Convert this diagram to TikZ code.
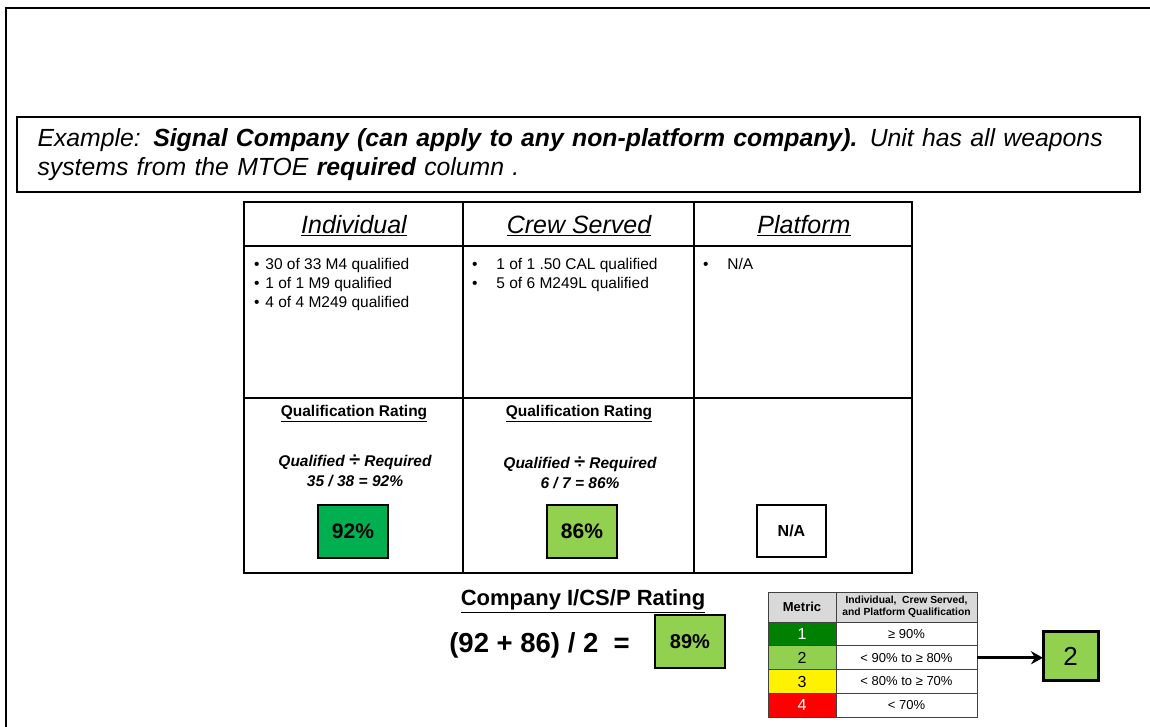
\documentclass[tikz,border=0pt]{standalone}
\usepackage{fontspec}
\setmainfont{Liberation Sans}
\usetikzlibrary{arrows.meta}
\definecolor{dkgreen}{HTML}{00B050}
\definecolor{ltgreen}{HTML}{92D050}
\definecolor{mgreen}{HTML}{008000}
\definecolor{hdrgray}{HTML}{D9D9D9}
\begin{document}
\begin{tikzpicture}[x=1pt,y=-1pt,
  every node/.style={inner sep=0pt, outer sep=0pt},
  gridline/.style={line width=1.5pt},
  hdr/.style={font=\fontsize{25}{30}\selectfont\itshape},
  blist/.style={font=\fontsize{15.5}{19}\selectfont, align=left, anchor=north west},
  qrate/.style={font=\fontsize{15.5}{19}\selectfont\bfseries},
  qform/.style={font=\fontsize{15.5}{20}\selectfont\bfseries\itshape, align=center},
  pctbox/.style={draw, line width=1.5pt, minimum width=70, minimum height=53, font=\fontsize{21}{24}\selectfont\bfseries},
  mcell/.style={draw=black!75, line width=1pt, minimum height=23.75},
  mnum/.style={mcell, minimum width=68, font=\fontsize{16}{18}\selectfont},
  mtxt/.style={mcell, fill=white, minimum width=141, font=\fontsize{13}{15}\selectfont},
]
\useasboundingbox (0,0) rectangle (1150,726);
\clip (0,0) rectangle (1150,726);
\draw[line width=2.5pt] (6,8) rectangle (1175,760);

% example box
\node[draw, line width=2.8pt, minimum width=1123, minimum height=75, inner xsep=19, text width=1082, align=left,
  font=\fontsize{24.8}{29.5}\selectfont\itshape] (ex) at (578.5,154.5)
  {Example: \textbf{Signal Company (can apply to any non-platform company).} Unit has all weapons\\
   systems from the MTOE \textbf{required} column .};

% main table grid
\draw[gridline] (244,202) rectangle (912,573);
\draw[gridline] (244,246) -- (912,246);
\draw[gridline] (244,398) -- (912,398);
\draw[gridline] (463,202) -- (463,573);
\draw[gridline] (694,202) -- (694,573);

\node[hdr] (h1) at (354,226) {\underline{Individual}};
\node[hdr] (h2) at (579,226) {\underline{Crew Served}};
\node[hdr] (h3) at (804,226) {\underline{Platform}};

\node[blist] (l1) at (254,258.5) {•\hspace{6pt}30 of 33 M4 qualified\\ •\hspace{6pt}1 of 1 M9 qualified\\ •\hspace{6pt}4 of 4 M249 qualified};
\node[blist] (l2) at (472,258.5) {•\hspace{19pt}1 of 1 .50 CAL qualified\\ •\hspace{19pt}5 of 6 M249L qualified};
\node[blist] (l3) at (703,258.5) {•\hspace{19pt}N/A};

\node[qrate] (q1) at (354,414) {\underline{Qualification Rating}};
\node[qrate] (q2) at (579,414) {\underline{Qualification Rating}};

\node[qform] (f1) at (355,471) {Qualified {\fontsize{20}{20}\selectfont ÷} Required\\35 / 38 = 92\%};
\node[qform] (f2) at (580,473) {Qualified {\fontsize{20}{20}\selectfont ÷} Required\\6 / 7 = 86\%};

\node[pctbox, fill=dkgreen] (p1) at (353,531.5) {92\%};
\node[pctbox, fill=ltgreen] (p2) at (582,531.5) {86\%};
\node[pctbox, fill=white, minimum width=69, minimum height=52, font=\fontsize{16}{18}\selectfont\bfseries] (p3) at (791.5,531) {N/A};

% company rating
\node[font=\fontsize{22}{26}\selectfont\bfseries] (cr) at (583,601) {\underline{Company I/CS/P Rating}};
\node[font=\fontsize{27.5}{30}\selectfont\bfseries] (eq) at (539.5,645) {(92 + 86) / 2 \ =};
\node[pctbox, fill=ltgreen, minimum height=53, font=\fontsize{20}{24}\selectfont\bfseries] (p4) at (690,641.5) {89\%};

% metric table
\node[mcell, fill=hdrgray, minimum width=68, minimum height=30, font=\fontsize{13}{15}\selectfont\bfseries] (mh1) at (802,607) {Metric};
\node[mcell, fill=hdrgray, minimum width=141, minimum height=30, align=center, font=\fontsize{10.3}{11.5}\selectfont\bfseries] (mh2) at (906.5,607) {Individual,\ \ Crew Served,\\and Platform Qualification};
\node[mnum, fill=mgreen, text=white] (m1a) at (802,634) {1};
\node[mtxt] (m1b) at (906.5,634) {≥ 90\%};
\node[mnum, fill=ltgreen] (m2a) at (802,657.75) {2};
\node[mtxt] (m2b) at (906.5,657.75) {< 90\% to ≥ 80\%};
\node[mnum, fill=yellow] (m3a) at (802,681.5) {3};
\node[mtxt] (m3b) at (906.5,681.5) {< 80\% to ≥ 70\%};
\node[mnum, fill=red, text=white] (m4a) at (802,705.25) {4};
\node[mtxt] (m4b) at (906.5,705.25) {< 70\%};

\node[draw, line width=3pt, fill=ltgreen, minimum width=55, minimum height=49, font=\fontsize{26}{30}\selectfont] (b2) at (1070.5,656) {2};
\draw[line width=3pt, -{Stealth[length=12pt,width=13pt]}] (m2b.east) -- (m2b.east -| b2.west);
\end{tikzpicture}
\end{document}
